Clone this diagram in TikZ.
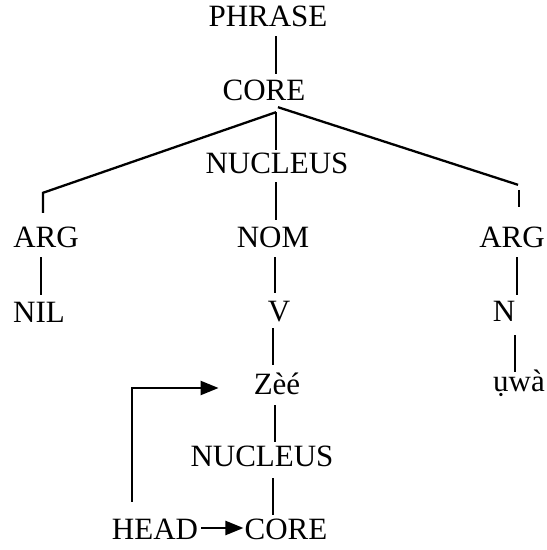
\documentclass[tikz,border=0pt]{standalone}
\usepackage{fontspec}
\setmainfont{Liberation Serif}
\usetikzlibrary{arrows.meta}
\begin{document}
\begin{tikzpicture}[x=1pt,y=1pt,
  lbl/.style={anchor=base,inner sep=0pt,text height=20pt,text depth=0pt,
              font=\fontsize{31}{37}\selectfont},
  branch/.style={line width=2.3pt},
  pointer/.style={line width=2.3pt,-{Triangle[length=18pt,width=14pt]}}]
\useasboundingbox (0,0) rectangle (547,550);

% labels of the tree
\node[lbl] (phrase) at (268,523) {PHRASE};
\node[lbl] (core)   at (264,449) {CORE};
\node[lbl] (nuc)    at (277,376) {NUCLEUS};
\node[lbl] (argl)   at (46,302)  {ARG};
\node[lbl] (nom)    at (273,302) {NOM};
\node[lbl] (argr)   at (512,302) {ARG};
\node[lbl] (nil)    at (39,227)  {NIL};
\node[lbl] (v)      at (279,228) {V};
\node[lbl] (n)      at (504,228) {N};
\node[lbl] (zee)    at (277,155) {Zèé};
\node[lbl] (uwa)    at (519,158) {ụwà};
\node[lbl] (nucb)   at (262,83)  {NUCLEUS};
\node[lbl] (head)   at (155,10)  {HEAD};
\node[lbl] (coreb)  at (286,10)  {CORE};

% branches
\draw[branch] ([xshift=8pt,yshift=-9pt]phrase.south) -- ([xshift=12pt,yshift=7pt]core.north);
\draw[branch] ([xshift=12pt,yshift=-11pt]core.south)
  -- ([xshift=-3pt,yshift=35pt]argl.north) -- ([xshift=-3pt,yshift=15pt]argl.north);
\draw[branch] ([xshift=12pt,yshift=-11pt]core.south) -- ([xshift=-1pt,yshift=4pt]nuc.north);
\draw[branch] ([xshift=14pt,yshift=-6pt]core.south) -- ([xshift=6pt,yshift=43pt]argr.north);
\draw[branch] ([xshift=7pt,yshift=38pt]argr.north) -- ([xshift=7pt,yshift=21pt]argr.north);
\draw[branch] ([xshift=-1pt,yshift=-8pt]nuc.south) -- ([xshift=3pt,yshift=8pt]nom.north);
\draw[branch] ([xshift=-5pt,yshift=-9pt]argl.south) -- ([xshift=2pt,yshift=8pt]nil.north);
\draw[branch] ([xshift=2pt,yshift=-9pt]nom.south) -- ([xshift=-4pt,yshift=9pt]v.north);
\draw[branch] ([xshift=5pt,yshift=-9pt]argr.south) -- ([xshift=13pt,yshift=7pt]n.north);
\draw[branch] ([xshift=-6pt,yshift=-6pt]v.south) -- ([xshift=-4pt,yshift=10pt]zee.north);
\draw[branch] ([xshift=11pt,yshift=-13pt]n.south) -- ([xshift=-4pt,yshift=0pt]uwa.north);
\draw[branch] ([xshift=-2pt,yshift=-10pt]zee.south) -- ([xshift=13pt,yshift=5pt]nucb.north);
\draw[branch] ([xshift=11pt,yshift=-11pt]nucb.south) -- ([xshift=-13pt,yshift=5pt]coreb.north);

% head pointers
\draw[pointer] ([xshift=3pt,yshift=2pt]head.east) -- ([xshift=-1pt,yshift=2pt]coreb.west);
\draw[pointer] ([xshift=-23pt,yshift=18pt]head.north) |- ([xshift=-35pt,yshift=-3pt]zee.west);
\end{tikzpicture}
\end{document}
